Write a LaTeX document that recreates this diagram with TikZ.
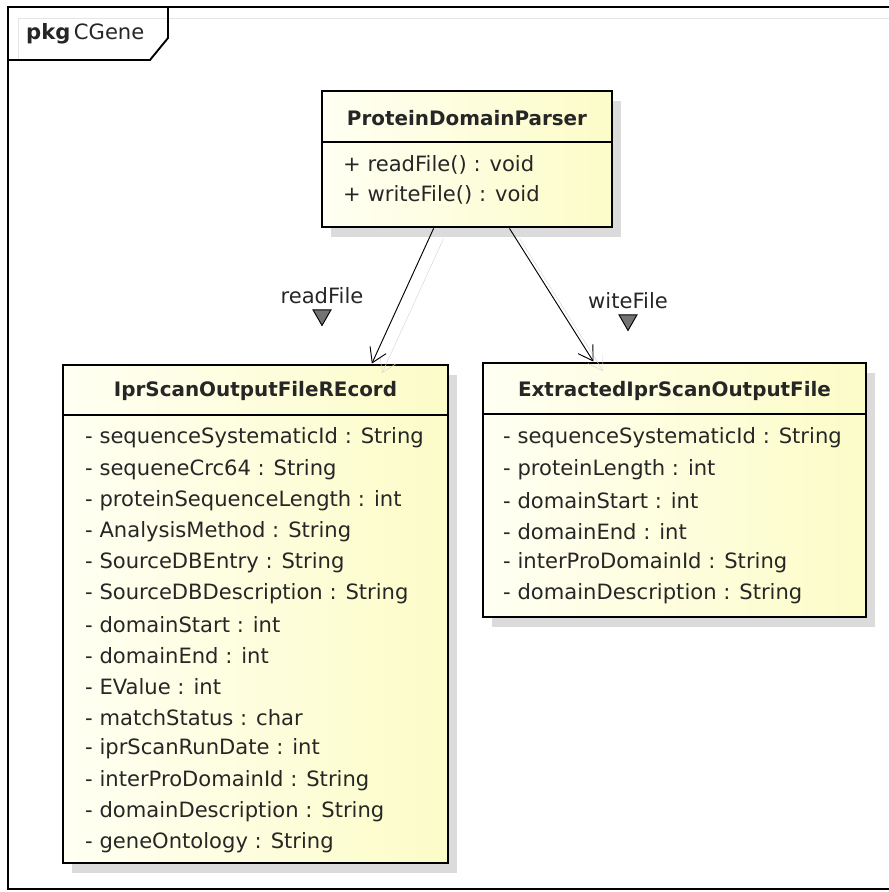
\documentclass[tikz,border=0pt]{standalone}
\usepackage{fontspec}
\setmainfont{DejaVu Sans}
\usetikzlibrary{arrows.meta,positioning,calc,shapes.geometric,shadows}

\definecolor{umlpale}{HTML}{FFFFF3}
\definecolor{umlyellow}{HTML}{FCFCC8}

\begin{document}
\begin{tikzpicture}[x=0.03cm,y=-0.03cm,
  every node/.style={font=\fontsize{18}{21}\selectfont,text=black!85},
  classbox/.style={draw,line width=2.4pt,inner sep=0pt,
    left color=umlpale,right color=umlyellow,
    drop shadow={shadow xshift=0.27cm,shadow yshift=-0.3cm,fill=black!14,opacity=1}},
  classname/.style={font=\bfseries\fontsize{17}{20}\selectfont},
  member/.style={anchor=west,inner sep=0pt},
  sepline/.style={line width=1.1pt},
  assoc/.style={-{Straight Barb[length=12pt,width=15pt]},line width=0.8pt,
    preaction={draw=black!16,transform canvas={shift={(0.3cm,-0.3cm)}}}},
  navtri/.style={regular polygon,regular polygon sides=3,shape border rotate=180,
    draw=black,line width=0.8pt,fill=black!55,minimum size=0.62cm,inner sep=0pt}]
\useasboundingbox (0,0) rectangle (888,892);

% package frame
\draw[black!10,line width=0.8pt] (18,60) -- (18,18) -- (900,18);
\draw[line width=1.6pt] (900,7) -- (8,7) -- (8,889) -- (900,889);
\draw[line width=1.6pt] (8,60) -- (150,60) -- (168,38) -- (168,7);
\node[anchor=west,inner sep=0pt] (pkg) at (26,34) {\textbf{pkg}\,CGene};

% classes
\node[classbox,minimum width=8.7cm,minimum height=4.08cm] (parser) at (467,159) {};
\node[classbox,minimum width=11.55cm,minimum height=14.94cm] (record) at (255.5,614) {};
\node[classbox,minimum width=11.49cm,minimum height=7.62cm] (extracted) at (674.5,490) {};

\node[classname] (parserhd) at (467,118) {ProteinDomainParser};
\draw[sepline] (parser.west |- 0,142) -- (parser.east |- 0,142);
\node[member] (m1) at (343,165) {+ readFile() : void};
\node[member] (m2) at (343,195) {+ writeFile() : void};

\node[classname] (recordhd) at (255.5,391) {IprScanOutputFileREcord};
\draw[sepline] (record.west |- 0,415) -- (record.east |- 0,415);
\foreach \attr [count=\i] in {sequenceSystematicId : String, sequeneCrc64 : String,
    proteinSequenceLength : int, AnalysisMethod : String, SourceDBEntry : String,
    SourceDBDescription : String, domainStart : int, domainEnd : int, EValue : int,
    matchStatus : char, iprScanRunDate : int, interProDomainId : String,
    domainDescription : String, geneOntology : String}
  \node[member] (ra\i) at (85,407+31.1*\i) {- \attr};

\node[classname] (extractedhd) at (674.5,391) {ExtractedIprScanOutputFile};
\draw[sepline] (extracted.west |- 0,414) -- (extracted.east |- 0,414);
\foreach \attr [count=\i] in {sequenceSystematicId : String, proteinLength : int,
    domainStart : int, domainEnd : int, interProDomainId : String,
    domainDescription : String}
  \node[member] (ea\i) at (503,407+31.1*\i) {- \attr};

% associations
\draw[assoc] ($(parser.south west)!0.386!(parser.south east)$)
  -- ($(record.north west)!0.80!(record.north east)$);
\draw[assoc] ($(parser.south west)!0.645!(parser.south east)$)
  -- ($(extracted.north west)!0.29!(extracted.north east)$);

\node (readlbl) at (322,296) {readFile};
\node[navtri,below=1pt of readlbl] (readtri) {};
\node (writelbl) at (628,301) {witeFile};
\node[navtri,below=1pt of writelbl] (writetri) {};
\end{tikzpicture}
\end{document}
